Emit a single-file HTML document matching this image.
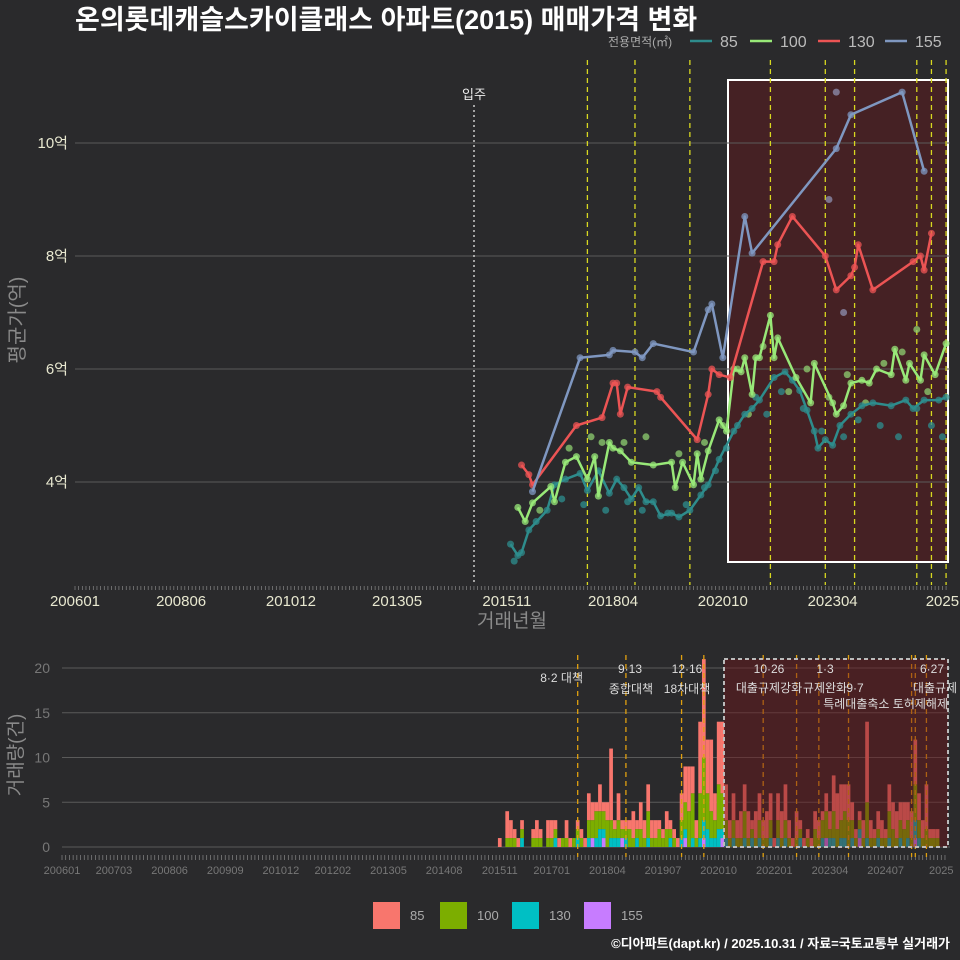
<!DOCTYPE html>
<html><head><meta charset="utf-8"><style>
body{margin:0;background:#2a2a2c;}
svg{display:block;font-family:"Liberation Sans","Noto Sans CJK KR",sans-serif;}
</style></head><body>
<svg id="c" width="960" height="960" viewBox="0 0 960 960">
<rect width="960" height="960" fill="#2a2a2c"/>
<text x="75" y="29" fill="#fff" font-size="27" font-weight="bold">온의롯데캐슬스카이클래스 아파트(2015) 매매가격 변화</text>
<text x="608" y="46" fill="#aaa" font-size="12">전용면적(㎡)</text>
<g id="topG"></g>
<g id="botG"></g>
<text transform="translate(24,320) rotate(-90)" text-anchor="middle" fill="#8a8a8a" font-size="20">평균가(억)</text>
<text x="512" y="627" text-anchor="middle" fill="#8a8a8a" font-size="19">거래년월</text>
<text transform="translate(22,755) rotate(-90)" text-anchor="middle" fill="#8a8a8a" font-size="19">거래량(건)</text>
<text x="950" y="948" text-anchor="end" fill="#fff" font-size="13" font-weight="bold">©디아파트(dapt.kr) / 2025.10.31 / 자료=국토교통부 실거래가</text>
</svg>
<script>
// ---- data (month index from 2006-01) ----
const s155m=[125,138,146,147,153,155,158,169,173,174,177,183,185,208,212,226,232];
const s155v=[3.83,6.2,6.25,6.33,6.3,6.2,6.45,6.3,7.05,7.15,6.2,8.7,8.05,9.9,10.5,10.9,9.5];
const s130m=[122,124,125,137,144,147,148,149,151,159,160,170,173,174,176,179,188,191,192,196,205,208,212,213,214,218,229,231,232,234];
const s130v=[4.3,4.13,3.95,5.0,5.14,5.75,5.75,5.2,5.68,5.6,5.5,4.75,5.55,6.0,5.9,5.85,7.9,7.9,8.2,8.7,8.0,7.4,7.65,7.8,8.2,7.4,7.9,8.0,7.75,8.4];
const s100m=[121,123,125,130,131,134,137,140,142,143,146,147,149,152,158,163,164,166,169,170,171,173,176,178,180,182,183,185,186,187,190,191,192,197,201,202,207,208,210,212,215,217,219,223,224,227,228,231,232,235,238];
const s100v=[3.55,3.3,3.63,3.92,3.65,4.35,4.45,4.05,4.45,3.75,4.7,4.6,4.55,4.35,4.3,4.35,3.9,4.35,3.95,4.5,4.05,4.55,5.1,4.9,6.0,5.95,6.2,5.55,6.2,6.2,6.95,6.2,6.55,5.85,5.4,6.1,5.4,5.2,5.35,5.75,5.8,5.75,6.0,5.9,6.35,5.8,6.1,5.8,6.25,5.9,6.45];
const s85m=[119,121,122,124,129,131,134,138,140,143,146,148,150,152,154,156,158,160,163,165,168,171,173,176,180,183,185,187,191,194,196,198,200,202,203,205,207,209,212,215,218,223,227,229,232,236,238];
const s85v=[2.9,2.7,2.75,3.15,3.5,3.95,4.05,4.15,3.85,4.2,3.8,4.05,3.9,3.7,3.9,3.65,3.65,3.4,3.45,3.38,3.5,3.77,3.95,4.4,4.9,5.2,5.3,5.45,5.85,5.95,5.8,5.62,5.27,4.9,4.6,4.75,4.65,5.0,5.2,5.35,5.4,5.35,5.45,5.3,5.45,5.45,5.5];
const x85m=[120,126,133,139,145,151,155,162,167,172,175,178,181,186,189,193,199,204,210,214,220,225,230,234,237];
const x85v=[2.6,3.3,3.7,3.6,3.5,3.65,3.5,3.45,3.6,3.9,4.2,4.6,5.0,5.5,5.2,5.6,5.3,4.9,4.8,5.1,5.0,4.8,5.3,5.0,4.8];
const x100m=[127,135,141,144,150,156,165,172,177,181,184,188,195,200,206,211,216,221,226,230,233];
const x100v=[3.5,4.6,4.8,4.7,4.7,4.8,4.5,4.7,5.0,6.0,5.2,6.4,5.6,6.0,5.5,5.9,5.4,6.1,6.3,6.7,5.6];
const xPm=[206,208,210];
const xPv=[9.0,10.9,7.0];
const topTicks=["200601","200806","201012","201305","201511","201804","202010","202304","2025"];
const topTickM=[0,29,59,88,118,147,177,207,237];
const yTicks=[4,6,8,10];
const yTickLbl=["4억","6억","8억","10억"];
const policyTop=[140,153,168,190,205,213,230,234,238];
const volStart=118;
const volTotal=[1,0,4,3,2,1,3,0,0,2,3,2,0,3,3,3,1,1,3,1,1,3,2,1,6,5,5,7,5,5,11,3,6,3,3,3,4,3,5,3,7,3,3,3,2,4,3,2,1,6,9,9,9,3,14,21,12,12,6,14,14,7,3,6,3,4,7,4,3,4,6,3,4,6,1,6,4,7,3,1,4,3,1,2,1,4,3,4,6,4,8,6,7,7,7,5,2,4,3,14,3,2,4,3,2,7,5,4,5,5,5,4,12,6,3,7,2,2,2];
const vol100=[0,0,1,1,1,0,1,0,0,1,1,1,0,1,1,1,0,1,1,0,1,1,1,0,2,2,3,2,2,3,2,1,2,1,1,2,1,1,2,1,3,1,1,2,1,2,1,1,0,2,3,4,5,1,5,7,4,3,2,5,4,2,1,2,1,1,3,1,1,1,2,1,1,2,0,2,1,2,1,0,1,1,0,1,0,2,1,2,3,1,3,2,2,3,3,2,1,1,1,4,1,1,1,1,1,3,2,1,2,2,2,1,4,2,1,2,1,1,1];
const vol130=[0,0,0,0,0,0,1,0,0,0,0,0,0,0,0,1,0,0,0,0,0,1,0,0,1,0,1,2,1,0,1,1,1,0,1,0,0,1,0,0,1,0,0,0,0,0,1,0,0,1,1,0,1,0,1,2,2,1,1,2,1,1,0,1,0,0,1,0,1,0,1,0,0,1,0,1,0,1,0,0,0,1,0,0,0,0,0,1,0,1,1,0,1,1,0,1,0,1,0,1,0,0,1,0,0,1,0,0,1,0,1,0,2,1,0,0,0,0,0];
const vol155=[0,0,0,0,0,0,0,0,0,0,0,0,0,0,0,0,0,0,0,0,0,0,0,0,0,1,0,0,1,0,0,0,0,1,0,0,0,0,0,0,0,0,0,0,0,0,0,0,0,0,1,0,0,0,0,1,0,0,0,0,1,0,0,0,0,0,0,0,0,0,0,0,0,0,0,0,0,0,0,0,0,0,0,0,0,0,0,0,1,0,0,0,0,0,0,0,0,1,0,0,0,0,0,0,0,0,0,0,0,0,0,0,1,0,0,0,0,0,0];
const botTicks=["200601","200703","200806","200909","201012","201202","201305","201408","201511","201701","201804","201907","202010","202201","202304","202407","2025"];
const botTickM=[0,14,29,44,59,73,88,103,118,132,147,162,177,192,207,222,237];
const volY=[0,5,10,15,20];
const policyBot=[139,152,167,173,189,198,204,212,229,230,233];

const NS="http://www.w3.org/2000/svg";
function mk(p,t,a){const e=document.createElementNS(NS,t);for(const k in a)e.setAttribute(k,a[k]);p.appendChild(e);return e;}
const xT=m=>75+m*3.66, yT=v=>482-(v-4)*56.5;
const xB=m=>62+m*3.71, yB=c=>847-c*8.95;
const topG=document.getElementById('topG'), botG=document.getElementById('botG');

let hr=mk(topG,'rect',{x:728,y:80,width:220,height:482,fill:'rgba(110,20,25,0.4)',stroke:'#fff','stroke-width':2});


yTicks.forEach((v,i)=>{
 let g=mk(topG,'line',{x1:75,x2:950,y1:yT(v),y2:yT(v),stroke:'#5a5a5a','stroke-width':1});
 
 
 let t=mk(topG,'text',{x:68,y:yT(v)+5,'text-anchor':'end',fill:'#e8e8d0','font-size':15});t.textContent=yTickLbl[i];
 
 
});
for(let m=0;m<=238;m++){let l=mk(topG,'line',{x1:xT(m),x2:xT(m),y1:586,y2:590,stroke:'#888','stroke-width':0.7});
 
 }
topTicks.forEach((s,i)=>{let t=mk(topG,'text',{x:xT(topTickM[i]),y:606,'text-anchor':'middle',fill:'#e8e8d0','font-size':15});t.textContent=s;
 
 });
let mi=mk(topG,'line',{x1:474,x2:474,y1:105,y2:585,stroke:'#ccc','stroke-dasharray':'2,3','stroke-width':1.5});


let mt=mk(topG,'text',{x:474,y:99,'text-anchor':'middle',fill:'#eee','font-size':13});mt.textContent='입주';


policyTop.forEach(m=>{let l=mk(topG,'line',{x1:xT(m),x2:xT(m),y1:60,y2:585,stroke:'#d8d820','stroke-dasharray':'5,4','stroke-width':1.3});
 
 });
function series(ms,vs,col,name,r){
 vs.forEach((v,i)=>{let c=mk(topG,'circle',{cx:xT(ms[i]),cy:yT(v),r:r||3.5,fill:col,'fill-opacity':0.75});
  
  });
}
function line(ms,vs,col,name){
 let p=mk(topG,'polyline',{points:ms.map((m,i)=>xT(m)+','+yT(vs[i])).join(' '),fill:'none',stroke:col,'stroke-width':2.5,'stroke-linejoin':'round'});
 
 
 series(ms,vs,col,name,3.5);
}
series(x85m,x85v,'#2e8f8f','area-85-extra');
series(x100m,x100v,'#8fd070','area-100-extra');
series(xPm,xPv,'#8f90b0','area-155-extra');
line(s85m,s85v,'#2e8c8c','area-85');
line(s100m,s100v,'#98e878','area-100');
line(s130m,s130v,'#ec5454','area-130');
line(s155m,s155v,'#7f97c0','area-155');
[['85','#2e8c8c',690],['100','#98e878',750],['130','#ec5454',818],['155','#7f97c0',885]].forEach(d=>{
 let l=mk(topG,'line',{x1:d[2],x2:d[2]+22,y1:41,y2:41,stroke:d[1],'stroke-width':2.5});
 
 
 let t=mk(topG,'text',{x:d[2]+30,y:47,fill:'#bbb','font-size':16});t.textContent=d[0];
 
 
});
volY.forEach(v=>{let g=mk(botG,'line',{x1:62,x2:950,y1:yB(v),y2:yB(v),stroke:'#5a5a5a'});
 
 
 let t=mk(botG,'text',{x:50,y:yB(v)+5,'text-anchor':'end',fill:'#777','font-size':14});t.textContent=v;
 
 });
for(let m=0;m<=238;m++){let l=mk(botG,'line',{x1:xB(m),x2:xB(m),y1:855,y2:860,stroke:'#888','stroke-width':0.7});
 
 }
botTicks.forEach((s,i)=>{let t=mk(botG,'text',{x:xB(botTickM[i]),y:874,'text-anchor':'middle',fill:'#777','font-size':11});t.textContent=s;
 
 });
volTotal.forEach((tot,i)=>{
 const m=volStart+i, x=xB(m)-1.85, w=3.7;
 const a=vol155[i]||0,b=vol130[i]||0,c=vol100[i]||0;
 const segs=[[0,a,'#c77cff'],[a,a+b,'#00bfc4'],[a+b,a+b+c,'#7cae00'],[a+b+c,tot,'#f8766d']];
 segs.forEach(s=>{if(s[1]>s[0]){let r=mk(botG,'rect',{x:x,y:yB(s[1]),width:w,height:yB(s[0])-yB(s[1]),fill:s[2]});
  
  }});
});
policyBot.forEach(m=>{let l=mk(botG,'line',{x1:xB(m),x2:xB(m),y1:655,y2:857,stroke:'#e0a010','stroke-dasharray':'5,4','stroke-width':1.3});
 
 });
let br=mk(botG,'rect',{x:724,y:659,width:224,height:188,fill:'rgba(110,20,25,0.45)',stroke:'#bbb','stroke-width':2,'stroke-dasharray':'4,3'});


[['8·2 대책',583,682,'end'],['9·13',630,673,'middle'],['종합대책',631,693,'middle'],['12·16',687,673,'middle'],['18차대책',687,693,'middle'],['10·26',769,673,'middle'],['대출규제강화',769,692,'middle'],['1·3',825,673,'middle'],['규제완화',825,692,'middle'],['9·7',855,692,'middle'],['특례대출축소 토허제해제',948,708,'end'],['6·27',932,673,'middle'],['대출규제',935,692,'middle']].forEach(d=>{
 let t=mk(botG,'text',{x:d[1],y:d[2],'text-anchor':d[3],fill:'#ddd','font-size':12});t.textContent=d[0];
 
 
});
[['85','#f8766d',373],['100','#7cae00',440],['130','#00bfc4',512],['155','#c77cff',584]].forEach(d=>{
 let r=mk(botG,'rect',{x:d[2],y:902,width:27,height:27,fill:d[1]});
 
 
 let t=mk(botG,'text',{x:d[2]+37,y:920,fill:'#aaa','font-size':13});t.textContent=d[0];
 
 
});
</script>
</body></html>
